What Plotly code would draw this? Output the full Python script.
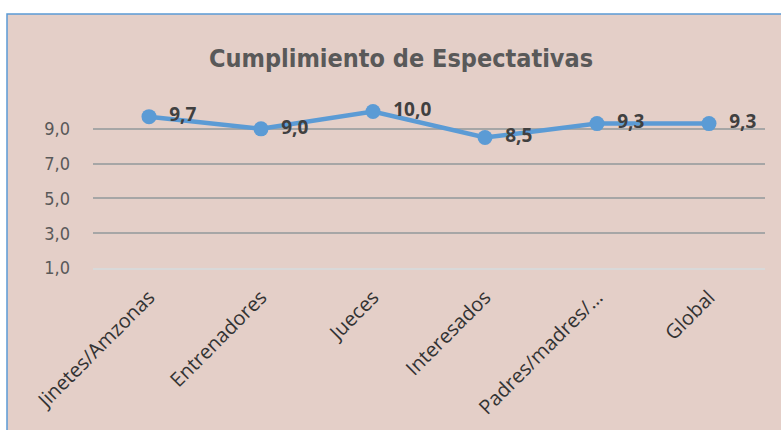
import plotly.graph_objects as go

categories = ["Jinetes/Amzonas", "Entrenadores", "Jueces", "Interesados", "Padres/madres/…", "Global"]
values = [9.7, 9.0, 10.0, 8.5, 9.3, 9.3]
labels = ["9,7", "9,0", "10,0", "8,5", "9,3", "9,3"]
y_ticks = [1, 3, 5, 7, 9]
title = "Cumplimiento de Espectativas"

W, H = 781, 430
L, R, T, B = 93, 16, 101, 162
pw, ph = W - L - R, H - T - B

def px_x(p):
    return (p - L) / pw

def px_y(p):
    return (H - B - p) / ph

fig = go.Figure()
fig.add_trace(go.Scatter(
    x=categories, y=values, mode="lines+markers+text",
    text=["  " + t for t in labels], textposition="middle right",
    textfont=dict(family="Open Sans", size=19, color="#404040", weight="bold"),
    line=dict(color="#5B9BD5", width=4.5),
    marker=dict(color="#5B9BD5", size=15),
    cliponaxis=False, showlegend=False, hoverinfo="skip",
))

fig.add_shape(type="rect", xref="paper", yref="paper",
              x0=px_x(7), x1=px_x(800), y0=px_y(14), y1=px_y(460),
              fillcolor="#E4CFC8", line=dict(color="#5B9BD5", width=1.5), layer="below")

fig.update_layout(
    width=W, height=H,
    margin=dict(l=L, r=R, t=T, b=B, autoexpand=False),
    paper_bgcolor="white", plot_bgcolor="rgba(0,0,0,0)",
    separators=",.",
    title=dict(text=title, x=px_x(401), xref="paper", xanchor="center",
               y=1 - 58 / H, yanchor="middle", automargin=False,
               font=dict(family="DejaVu Sans Condensed", size=25,
                         color="#595959", weight="bold")),
    xaxis=dict(range=[-0.5, 5.5], showgrid=False, tickangle=-45, automargin=False,
               showline=True, linecolor="#D9D9D9", linewidth=1.5,
               ticks="", ticklabelstandoff=8,
               tickfont=dict(family="Open Sans", size=20, color="#333333")),
    yaxis=dict(range=[1, 10.6], tickvals=y_ticks, tickformat=".1f", automargin=False,
               showgrid=True, gridcolor="#A6A6A6", gridwidth=1.5,
               zeroline=False, ticks="", ticklabelstandoff=22,
               tickfont=dict(family="DejaVu Sans Condensed", size=18, color="#595959")),
)

fig.write_html("out.html", config={"displayModeBar": False},
               post_script="document.body.style.margin='0';")
